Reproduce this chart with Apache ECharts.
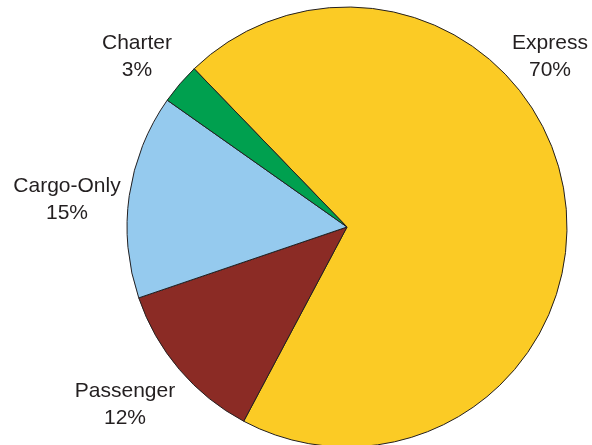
<!DOCTYPE html>
<html>
<head>
<meta charset="utf-8">
<script src="https://cdn.jsdelivr.net/npm/echarts@6/dist/echarts.min.js"></script>
<style>
html,body{margin:0;padding:0;background:#fff;}
#chart{width:592px;height:445px;}
</style>
</head>
<body>
<div id="chart"></div>
<script>
const categories = ['Express', 'Passenger', 'Cargo-Only', 'Charter'];
const shares = [70, 12, 15, 3];
const colors = ['#FBCB25', '#8B2B25', '#95CAEE', '#00A04F'];
const labelSpots = {
  'Express': [550, 57],
  'Passenger': [125, 405],
  'Cargo-Only': [67, 200],
  'Charter': [137, 57]
};

const chart = echarts.init(document.getElementById('chart'));
chart.setOption({
  animation: false,
  series: [{
    type: 'pie',
    center: [347, 227],
    radius: 220,
    startAngle: 134,
    clockwise: true,
    avoidLabelOverlap: false,
    data: categories.map((c, i) => ({ name: c, value: shares[i], itemStyle: { color: colors[i] } })),
    itemStyle: { borderColor: '#231F20', borderWidth: 1 },
    label: {
      show: true,
      position: 'outside',
      formatter: '{b}\n{d}%',
      fontFamily: 'Liberation Sans, Arial, sans-serif',
      fontSize: 21,
      lineHeight: 27,
      color: '#231F20',
      align: 'center'
    },
    labelLine: { show: false },
    labelLayout: function (p) {
      const s = labelSpots[categories[p.dataIndex]];
      return { x: s[0], y: s[1], align: 'center', verticalAlign: 'middle', hideOverlap: false };
    },
    emphasis: { disabled: true }
  }]
});
</script>
</body>
</html>
